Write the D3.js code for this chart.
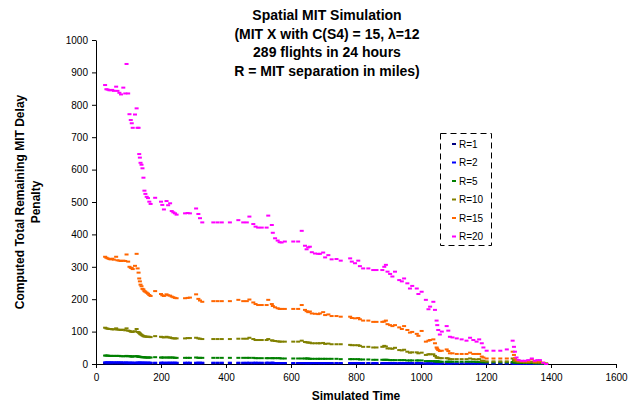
<!DOCTYPE html>
<html>
<head>
<meta charset="utf-8">
<script src="https://cdn.jsdelivr.net/npm/d3@7"></script>
<style>
  html, body { margin: 0; padding: 0; background: #fff; }
  svg { display: block; font-family: Arial, "Liberation Sans", sans-serif; }
</style>
</head>
<body>
<svg id="chart" width="633" height="405"></svg>
<script>
const titleLines = ["Spatial MIT Simulation", "(MIT X with C(S4) = 15, \u03bb=12", "289 flights in 24 hours", "R = MIT separation in miles)"];
const yTitleLines = ["Computed Total Remaining MIT Delay", "Penalty"];
const xTitle = "Simulated Time";
const xTicks = [0, 200, 400, 600, 800, 1000, 1200, 1400, 1600];
const yTicks = [0, 100, 200, 300, 400, 500, 600, 700, 800, 900, 1000];
const seriesNames = ["R=1", "R=2", "R=5", "R=10", "R=15", "R=20"];
const seriesColors = ["#000080", "#0000FF", "#008000", "#808000", "#FF6600", "#FF00FF"];

const times = [28,32,36,41,45,50,55,62,66,72,77,84,90,94,99,103,107,110,113,120,125,128,131,133,135,137,140,143,146,149,152,156,160,164,168,182,200,204,209,217,222,228,233,238,243,248,274,282,289,308,315,320,327,361,374,387,412,438,453,464,472,484,491,499,510,525,530,541,544,551,559,565,571,581,607,622,633,643,648,653,658,664,674,684,689,699,705,715,725,740,753,782,787,797,807,812,822,838,853,863,881,887,892,897,905,912,920,933,941,948,958,966,973,987,992,1002,1015,1023,1028,1038,1043,1048,1050,1053,1058,1064,1079,1084,1089,1097,1110,1125,1140,1151,1161,1171,1179,1187,1192,1202,1223,1244,1264,1282,1286,1289,1294,1300,1310,1320,1330,1341,1350,1358,1366,1376,1385];

const r20 = [861,848,847,845,845,846,843,856,843,837,832,853,835,926,835,771,753,743,729,770,789,729,729,648,637,621,615,604,575,535,525,516,512,501,494,513,501,491,477,503,490,496,472,468,465,461,465,466,465,480,463,450,437,437,437,437,437,444,437,437,455,432,424,421,421,421,458,429,405,388,381,376,375,378,378,378,411,365,354,360,362,345,341,340,340,344,329,336,323,324,319,326,316,311,319,302,295,295,290,290,290,300,306,285,278,270,285,259,255,264,249,233,241,233,216,223,198,169,177,192,167,134,120,105,91,100,117,103,84,82,79,76,72,81,74,69,76,64,51,41,41,41,45,72,53,38,20,12,10,10,12,17,10,12,12,4,0];
const r15 = [331,328,326,324,323,325,322,331,320,319,318,319,318,338,316,300,297,296,293,303,340,295,282,264,255,245,240,232,230,225,223,220,217,213,210,225,216,212,210,215,212,211,208,206,204,203,203,204,205,215,201,196,192,194,194,194,194,198,194,194,199,190,185,182,182,182,198,185,179,175,172,170,170,170,170,170,182,167,163,160,162,156,155,154,156,160,151,153,148,148,146,146,142,141,142,138,134,134,130,130,130,131,134,123,120,117,120,113,108,117,105,97,99,93,87,102,69,72,74,76,64,51,47,43,40,41,45,40,33,33,31,31,31,35,31,31,31,23,20,17,17,17,17,38,28,18,12,10,8,8,8,14,7,8,8,4,1];
const r10 = [112,110,109,108,108,107,107,110,106,106,105,106,104,110,103,102,100,100,99,101,108,99,98,96,94,92,90,88,86,85,85,84,84,84,83,86,84,83,82,84,82,82,80,79,79,79,79,80,80,81,79,78,77,77,77,77,77,78,78,78,81,77,74,74,74,74,77,73,72,71,70,69,69,69,69,69,72,68,67,66,66,64,64,64,64,65,62,63,61,61,61,59,58,58,58,56,53,53,51,51,53,56,54,48,48,47,50,43,42,44,38,35,36,36,33,35,28,30,30,30,25,20,20,19,18,18,18,17,15,15,15,15,15,17,15,14,15,10,10,8,8,8,8,17,12,9,8,6,6,5,5,6,4,4,4,3,1];
const r5 = [26,26,26,25,25,25,25,25,25,25,24,24,24,25,24,24,24,23,23,24,24,23,23,22,22,22,21,21,21,21,20,20,20,20,20,21,20,20,20,20,20,20,20,20,19,19,19,19,19,20,19,19,19,19,19,19,19,19,19,19,19,19,18,18,18,18,18,18,18,18,18,18,17,17,17,17,17,17,17,17,16,16,16,16,16,16,16,16,16,16,15,15,15,15,15,14,14,14,13,13,13,13,13,13,12,12,12,12,12,12,11,11,11,11,11,11,9,9,9,9,8,8,8,8,7,7,7,7,7,7,7,7,7,7,7,6,6,6,5,5,5,5,5,6,5,4,4,3,3,3,3,3,2,2,2,1,1];
const r2 = [5,5,5,5,5,5,5,5,5,5,5,5,4,5,4,4,4,4,4,4,4,4,4,4,4,4,4,4,4,4,4,4,4,4,4,4,4,4,4,4,4,4,4,4,4,4,4,4,4,4,4,4,4,4,4,4,4,4,4,4,4,4,4,4,4,4,4,4,4,3,3,3,3,3,3,3,3,3,3,3,3,3,3,3,3,3,3,3,3,3,3,3,3,3,3,3,3,3,3,3,3,3,3,3,3,3,3,3,3,3,3,3,3,3,3,3,2,2,2,2,2,2,2,2,2,2,2,2,2,2,2,2,2,2,2,2,2,2,2,2,2,2,2,2,2,2,2,1,1,1,1,1,1,1,1,1,0];
const r1 = [2,2,2,2,2,2,2,2,2,2,2,2,2,2,2,2,2,2,2,2,2,2,2,2,2,2,2,2,2,2,2,2,2,2,2,2,2,2,2,2,2,2,2,2,2,2,2,2,2,2,2,2,2,2,2,2,2,2,2,2,2,2,2,2,2,2,2,2,2,2,2,2,2,2,2,2,2,2,2,2,2,2,2,2,2,2,2,2,2,2,2,2,2,2,2,2,2,2,1,1,1,1,1,1,1,1,1,1,1,1,1,1,1,1,1,1,1,1,1,1,1,1,1,1,1,1,1,1,1,1,1,1,1,1,1,1,1,1,1,1,1,1,1,1,1,1,1,1,1,1,1,1,1,0,0,0,0];

const seriesValues = [r1, r2, r5, r10, r15, r20];

const svg = d3.select("#chart");
const x = d3.scaleLinear().domain([0, 1600]).range([96, 616]);
const y = d3.scaleLinear().domain([0, 1000]).range([364, 40]);

// Title
svg.append("g").selectAll("text").data(titleLines).join("text")
  .attr("x", 327).attr("y", (d, i) => 20 + i * 18.6)
  .attr("text-anchor", "middle").attr("font-size", 14).attr("font-weight", "bold")
  .attr("fill", "#000").text(d => d);

// Axes
const fmt = d3.format("d");
const xAxis = svg.append("g").attr("transform", `translate(0,${y(0)})`)
  .call(d3.axisBottom(x).tickValues(xTicks).tickFormat(fmt).tickSize(4).tickSizeOuter(0).tickPadding(6));
const yAxis = svg.append("g").attr("transform", `translate(${x(0)},0)`)
  .call(d3.axisLeft(y).tickValues(yTicks).tickFormat(fmt).tickSize(4).tickSizeOuter(0).tickPadding(4));
[xAxis, yAxis].forEach(a => {
  a.selectAll("path, line").attr("stroke", "#000").attr("stroke-width", 1);
  a.selectAll("text").attr("font-size", 10).attr("fill", "#000")
    .attr("font-family", "Arial, 'Liberation Sans', sans-serif");
});

// Axis titles
svg.append("text").attr("x", 356).attr("y", 400).attr("text-anchor", "middle")
  .attr("font-size", 12).attr("font-weight", "bold").text(xTitle);
svg.append("g").attr("transform", "translate(24,202) rotate(-90)")
  .selectAll("text").data(yTitleLines).join("text")
  .attr("x", 0).attr("y", (d, i) => i * 16)
  .attr("text-anchor", "middle").attr("font-size", 12).attr("font-weight", "bold")
  .text(d => d);

// Series markers (dash markers)
const mw = 4, mh = 2;
seriesValues.forEach((vals, si) => {
  svg.append("g").selectAll("rect").data(vals.map((v, i) => [times[i], v])).join("rect")
    .attr("x", d => x(d[0]) - mw / 2).attr("y", d => y(d[1]) - mh / 2)
    .attr("width", mw).attr("height", mh).attr("fill", seriesColors[si]);
});

// Legend
const lg = svg.append("g");
lg.append("rect").attr("x", 440.5).attr("y", 133.5).attr("width", 51).attr("height", 112)
  .attr("fill", "#fff").attr("stroke", "#000").attr("stroke-width", 1)
  .attr("stroke-dasharray", "6,4");
const items = lg.selectAll("g.item").data(seriesNames).join("g").attr("class", "item")
  .attr("transform", (d, i) => `translate(0,${144 + i * 18.5})`);
items.append("rect").attr("x", 452).attr("y", -1).attr("width", 4).attr("height", 2)
  .attr("fill", (d, i) => seriesColors[i]);
items.append("text").attr("x", 459).attr("y", 3.5).attr("font-size", 10).attr("fill", "#000")
  .text(d => d);
</script>
</body>
</html>
